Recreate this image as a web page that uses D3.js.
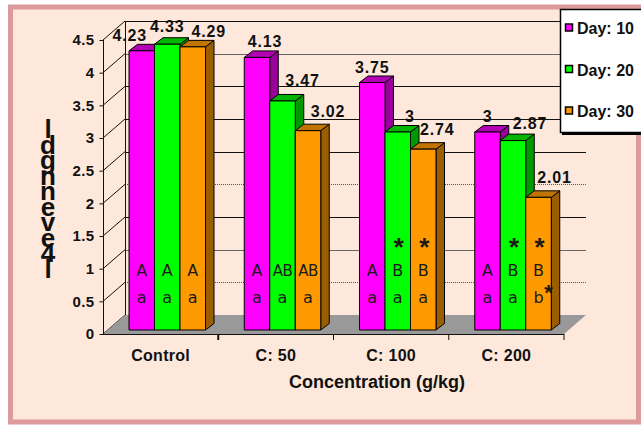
<!DOCTYPE html>
<html><head><meta charset="utf-8">
<script src="https://cdn.jsdelivr.net/npm/d3@7"></script>
<style>
html,body{margin:0;padding:0;background:#fff;}
svg{display:block;}
</style></head><body>
<svg id="chart" width="641" height="427"></svg>
<script>
// ---- data ----
const categories = ["Control", "C: 50", "C: 100", "C: 200"];
const seriesNames = ["Day: 10", "Day: 20", "Day: 30"];
const day10 = [4.23, 4.13, 3.75, 3.00];
const day20 = [4.33, 3.47, 3.00, 2.87];
const day30 = [4.29, 3.02, 2.74, 2.01];
const yTicks = [0, 0.5, 1, 1.5, 2, 2.5, 3, 3.5, 4, 4.5];
const upperLetters = [["A", "A", "A"], ["A", "AB", "AB"], ["A", "B", "B"], ["A", "B", "B"]];
const lowerLetters = [["a", "a", "a"], ["a", "a", "a"], ["a", "a", "a"], ["a", "a", "b"]];
const upperStar = [[0, 0, 0], [0, 0, 0], [0, 1, 1], [0, 1, 1]];
const lowerStar = [[0, 0, 0], [0, 0, 0], [0, 0, 0], [0, 0, 1]];
const yTitle = "ldgnneve4l";
const xTitle = "Concentration (g/kg)";

const seriesValues = [day10, day20, day30];

// ---- styling ----
const faceFront = ["#ff00ff", "#00ff00", "#ff9900"];
const faceTop = ["#b400b4", "#00b400", "#c27400"];
const faceSide = ["#990099", "#009900", "#9a5e00"];
// small offsets so neighbouring value labels do not collide
const labelNudge = [[[-12, 0], [0, -2], [16, 0]], [[8, 0], [20, -5], [20, -4]],
                    [[0, 0], [12, 0], [14, -4]], [[0, 0], [17, -2], [16, -4]]];

const svg = d3.select("#chart");
const font = "'Liberation Sans', Arial, sans-serif";

// background panel
svg.append("rect").attr("x", 10.5).attr("y", 7).attr("width", 628).attr("height", 415)
  .attr("fill", "#fde8db").attr("stroke", "#dc9a9b").attr("stroke-width", 5);

// ---- scales ----
const depth = { dx: 22, dy: -19 };     // floor / wall depth
const barDepth = { dx: 8.5, dy: -6.5 }; // bar thickness
const y = d3.scaleLinear().domain([0, 4.5]).range([334, 40]);
const yBar = d3.scaleLinear().domain([0, 4.5]).range([330, 33]);
const x = d3.scaleBand().domain(categories).range([103, 564]);
const xs = d3.scaleBand().domain(seriesNames).range([0, 76.5]);
const groupOffset = 26;
const xLeft = 103, xRight = 564;

const g = svg.append("g");

// back wall grid lines
yTicks.filter(t => t > 0).forEach(t => {
  const dotted = (t === 2 || t === 0.5);
  const grey = (t === 4 || t === 1);
  g.append("line")
    .attr("x1", xLeft + depth.dx).attr("x2", xRight + depth.dx)
    .attr("y1", Math.round(y(t) + depth.dy) + 0.5).attr("y2", Math.round(y(t) + depth.dy) + 0.5)
    .attr("stroke", dotted ? "#555" : (grey ? "#666" : "#111"))
    .attr("stroke-dasharray", dotted ? "1,1" : null)
    .attr("stroke-width", 1);
});
// back wall left edge
g.append("line").attr("x1", xLeft + depth.dx + 0.5).attr("x2", xLeft + depth.dx + 0.5)
  .attr("y1", y(0) + depth.dy).attr("y2", y(4.5) + depth.dy).attr("stroke", "#111");
// side wall diagonals
yTicks.forEach(t => {
  g.append("line")
    .attr("x1", xLeft).attr("y1", y(t))
    .attr("x2", xLeft + depth.dx).attr("y2", y(t) + depth.dy)
    .attr("stroke", "#111").attr("stroke-width", 1);
});

// floor
g.append("path")
  .attr("d", `M${xLeft},${y(0)} L${xRight},${y(0)} L${xRight + depth.dx},${y(0) + depth.dy} L${xLeft + depth.dx},${y(0) + depth.dy} Z`)
  .attr("fill", "#999999");

// front axis lines
g.append("line").attr("x1", xLeft + 0.5).attr("x2", xLeft + 0.5).attr("y1", y(4.5)).attr("y2", y(0))
  .attr("stroke", "#111");
g.append("line").attr("x1", xLeft).attr("x2", xRight).attr("y1", y(0) + 0.5).attr("y2", y(0) + 0.5)
  .attr("stroke", "#111").attr("stroke-width", 1.2);

// y axis ticks and labels
const yAxis = d3.axisLeft(y).tickValues(yTicks).tickSize(4).tickPadding(5).tickFormat(d => String(d));
const ya = svg.append("g").attr("transform", `translate(${xLeft + 0.5},0)`).call(yAxis);
ya.select(".domain").remove();
ya.selectAll(".tick line").attr("stroke", "#111");
ya.selectAll(".tick text").attr("font-family", font).attr("font-weight", "bold")
  .attr("font-size", 15).attr("fill", "#111").attr("letter-spacing", 0.4);

// x axis ticks
const xb = [...categories.map(c => x(c)), xRight];
xb.slice(1).forEach((bx, i) => {
  g.append("line").attr("x1", bx).attr("x2", bx).attr("y1", y(0)).attr("y2", y(0) + 6)
    .attr("stroke", "#111").attr("stroke-width", i === 0 ? 2 : 1);
});

// ---- bars ----
const bars = svg.append("g");
categories.forEach((c, ci) => {
  seriesNames.forEach((s, si) => {
    const v = seriesValues[si][ci];
    const bx = x(c) + groupOffset + xs(s);
    const bw = xs.bandwidth();
    const top = yBar(v), base = yBar(0);
    const dx = barDepth.dx, dy = barDepth.dy;
    const bg = bars.append("g").attr("stroke", "#000").attr("stroke-width", 1).attr("stroke-linejoin", "round");
    bg.append("path").attr("fill", faceSide[si])
      .attr("d", `M${bx + bw},${base} L${bx + bw + dx},${base + dy} L${bx + bw + dx},${top + dy} L${bx + bw},${top} Z`);
    bg.append("path").attr("fill", faceTop[si])
      .attr("d", `M${bx},${top} L${bx + dx},${top + dy} L${bx + bw + dx},${top + dy} L${bx + bw},${top} Z`);
    bg.append("rect").attr("fill", faceFront[si])
      .attr("x", bx).attr("y", top).attr("width", bw).attr("height", base - top);
  });
});

// value labels
const labels = svg.append("g").attr("font-family", font).attr("font-weight", "bold")
  .attr("font-size", 16).attr("fill", "#111").attr("text-anchor", "middle");
categories.forEach((c, ci) => {
  seriesNames.forEach((s, si) => {
    const v = seriesValues[si][ci];
    const cx = x(c) + groupOffset + xs(s) + xs.bandwidth() / 2;
    const [nx, ny] = labelNudge[ci][si];
    labels.append("text").attr("x", cx + nx).attr("y", yBar(v) - 10 + ny)
      .attr("letter-spacing", 0.8).text(String(v));
  });
});

// significance letters
const letters = svg.append("g").attr("font-family", "'DejaVu Sans', Verdana, sans-serif")
  .attr("font-size", 16).attr("fill", "#1a1a1a").attr("text-anchor", "middle");
categories.forEach((c, ci) => {
  seriesNames.forEach((s, si) => {
    const cx = x(c) + groupOffset + xs(s) + xs.bandwidth() / 2;
    const base = yBar(0);
    const up = upperLetters[ci][si];
    letters.append("text").attr("x", cx).attr("y", base - 54)
      .attr("font-size", up.length > 1 ? 15 : 16).attr("letter-spacing", up.length > 1 ? -0.5 : 0).text(up);
    letters.append("text").attr("x", cx).attr("y", base - 27).text(lowerLetters[ci][si]);
    if (upperStar[ci][si]) {
      letters.append("text").attr("x", cx + 1).attr("y", base - 74)
        .attr("font-family", font).attr("font-weight", "bold").attr("font-size", 26).text("*");
    }
    if (lowerStar[ci][si]) {
      letters.append("text").attr("x", cx + 10).attr("y", base - 30)
        .attr("font-family", font).attr("font-weight", "bold").attr("font-size", 22).text("*");
    }
  });
});

// category labels
const cats = svg.append("g").attr("font-family", font).attr("font-weight", "bold")
  .attr("font-size", 16).attr("fill", "#111").attr("text-anchor", "middle");
categories.forEach(c => {
  cats.append("text").attr("x", x(c) + x.bandwidth() / 2).attr("y", 361)
    .attr("letter-spacing", 0.3).text(c);
});

// axis titles
svg.append("text").attr("x", 377).attr("y", 388).attr("text-anchor", "middle")
  .attr("font-family", font).attr("font-weight", "bold").attr("font-size", 18)
  .attr("fill", "#111").text(xTitle);

// y title: upright glyphs stacked tightly in a single vertical run
svg.append("text").attr("x", 48).attr("y", 114)
  .attr("font-family", font).attr("font-weight", "bold").attr("font-size", 26)
  .attr("fill", "#111")
  .style("writing-mode", "vertical-rl").style("text-orientation", "upright")
  .style("letter-spacing", "-14.5px")
  .text(yTitle);

// ---- legend ----
const lg = svg.append("g");
lg.append("rect").attr("x", 562).attr("y", 132).attr("width", 80).attr("height", 3).attr("fill", "#000");
lg.append("rect").attr("x", 560.5).attr("y", 9.5).attr("width", 82).attr("height", 123)
  .attr("fill", "#fff").attr("stroke", "#000").attr("stroke-width", 1.5);
seriesNames.forEach((s, si) => {
  const cy = 28 + si * 41.5;
  lg.append("rect").attr("x", 565.5).attr("y", cy - 4).attr("width", 7).attr("height", 7)
    .attr("fill", faceFront[si]).attr("stroke", "#000").attr("stroke-width", 1.5);
  lg.append("text").attr("x", 577).attr("y", cy + 6).attr("font-family", font)
    .attr("font-weight", "bold").attr("font-size", 16).attr("fill", "#111").text(s);
});
</script>
</body></html>
